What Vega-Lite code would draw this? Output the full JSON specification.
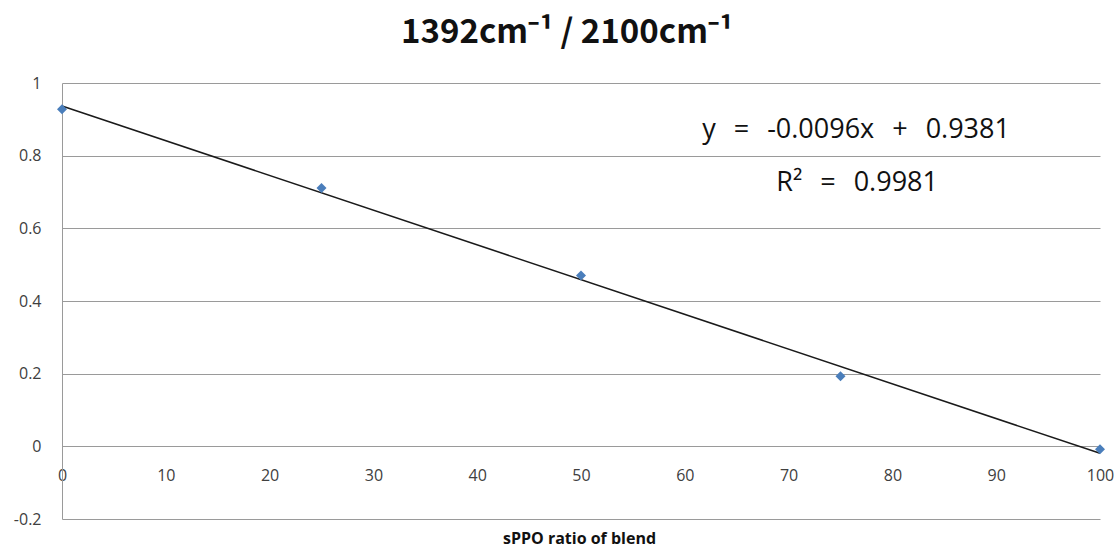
{
  "$schema": "https://vega.github.io/schema/vega-lite/v6.json",
  "width": 1038,
  "height": 436,
  "autosize": {"type": "none"},
  "padding": {"left": 62, "top": 83, "right": 20, "bottom": 30},
  "background": "white",
  "config": {
    "font": "Open Sans",
    "view": {"stroke": null}
  },
  "title": {
    "text": "1392cm\u207b\u00b9 / 2100cm\u207b\u00b9",
    "fontSize": 33,
    "fontWeight": "bold",
    "color": "#111111",
    "anchor": "middle",
    "baseline": "alphabetic",
    "offset": -1,
    "dx": -14,
    "font": "Noto Sans CJK KR"
  },
  "data": {
    "values": [
      {"ratio": 0, "value": 0.928},
      {"ratio": 25, "value": 0.711},
      {"ratio": 50, "value": 0.47},
      {"ratio": 75, "value": 0.193},
      {"ratio": 100, "value": -0.008}
    ]
  },
  "layer": [
    {
      "transform": [
        {"regression": "value", "on": "ratio", "method": "linear", "extent": [0, 100]}
      ],
      "mark": {"type": "line", "color": "#1a1a1a", "strokeWidth": 1.5},
      "encoding": {
        "x": {
          "field": "ratio",
          "type": "quantitative",
          "scale": {"domain": [0, 100], "nice": false, "zero": false},
          "axis": {
            "title": "sPPO ratio of blend",
            "titleFont": "Open Sans",
            "titleFontSize": 16,
            "titleFontWeight": "bold",
            "titleColor": "#111111",
            "titleBaseline": "alphabetic",
            "titleY": 97,
            "titleX": 517,
            "values": [0, 10, 20, 30, 40, 50, 60, 70, 80, 90, 100],
            "offset": -73,
            "domain": false,
            "ticks": false,
            "grid": false,
            "labelPadding": 21,
            "labelFont": "Open Sans",
            "labelFontSize": 16,
            "labelColor": "#404040",
            "labelFlush": false
          }
        },
        "y": {
          "field": "value",
          "type": "quantitative",
          "scale": {"domain": [-0.2, 1], "nice": false, "zero": false},
          "axis": {
            "title": null,
            "values": [-0.2, 0, 0.2, 0.4, 0.6, 0.8, 1],
            "labelExpr": "'' + datum.value",
            "domain": true,
            "domainColor": "#9a9a9a",
            "ticks": false,
            "grid": true,
            "gridColor": "#9a9a9a",
            "gridWidth": 1,
            "labelPadding": 21,
            "labelFont": "Open Sans",
            "labelFontSize": 16,
            "labelColor": "#404040"
          }
        }
      }
    },
    {
      "mark": {"type": "point", "shape": "diamond", "filled": true, "color": "#4A7EBB", "size": 100, "opacity": 1},
      "encoding": {
        "x": {"field": "ratio", "type": "quantitative"},
        "y": {"field": "value", "type": "quantitative"}
      }
    },
    {
      "data": {"values": [{"label": "y\u2002\u2009=\u2002\u2009-0.0096x\u2002\u2009+\u2002\u20090.9381", "lx": 76.5, "ly": 0.848}, {"label": "R\u00b2\u2002\u2009=\u2002\u20090.9981", "lx": 76.6, "ly": 0.703}]},
      "mark": {"type": "text", "align": "center", "baseline": "alphabetic", "fontSize": 27, "color": "#111111", "font": "Open Sans"},
      "encoding": {
        "x": {"field": "lx", "type": "quantitative"},
        "y": {"field": "ly", "type": "quantitative"},
        "text": {"field": "label"}
      }
    }
  ]
}
